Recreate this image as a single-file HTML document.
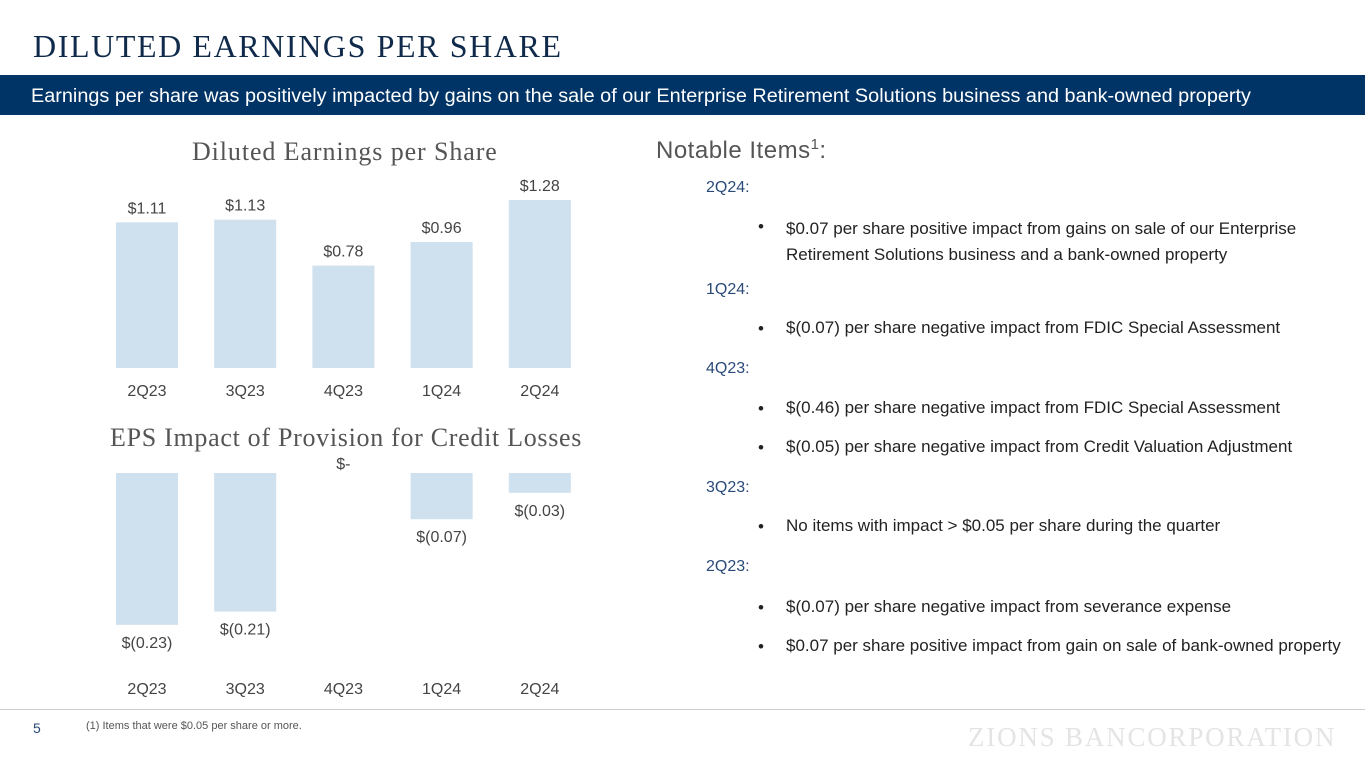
<!DOCTYPE html>
<html><head><meta charset="utf-8"><style>
body{margin:0;width:1365px;height:768px;position:relative;background:#fff;font-family:"Liberation Sans",sans-serif;overflow:hidden}
.abs{position:absolute}
.t{white-space:nowrap}
.blue{color:#2a4a78}
.ni{font-size:17px;color:#222}
</style></head><body>
<div class="abs t" style="left:33px;top:28px;font-family:'Liberation Serif',serif;font-size:32px;letter-spacing:1.6px;color:#0f2a4a">DILUTED EARNINGS PER SHARE</div>
<div class="abs" style="left:0;top:75px;width:1365px;height:40px;background:#003466"></div>
<div class="abs t" style="left:31px;top:85px;font-size:19.85px;color:#fff">Earnings per share was positively impacted by gains on the sale of our Enterprise Retirement Solutions business and bank-owned property</div>
<div class="abs t" style="left:192px;top:137px;font-family:'Liberation Serif',serif;font-size:26px;letter-spacing:0.9px;color:#555">Diluted Earnings per Share</div>
<div class="abs t" style="left:110px;top:423px;font-family:'Liberation Serif',serif;font-size:26px;letter-spacing:0.7px;color:#555">EPS Impact of Provision for Credit Losses</div>
<svg class="abs" style="left:0;top:0" width="1365" height="768" id="charts"></svg>
<div class="abs t" style="left:656px;top:136px;font-size:24px;color:#555;letter-spacing:0.5px">Notable Items<sup style="font-size:15px">1</sup>:</div>
<div>
<div class="abs t blue" style="left:706px;top:179px;font-size:16px">2Q24:</div>
<div class="abs ni" style="left:758px;top:217px">•</div>
<div class="abs ni" style="left:786px;top:216px;line-height:26px;width:560px">$0.07 per share positive impact from gains on sale of our Enterprise Retirement Solutions business and a bank-owned property</div>
<div class="abs t blue" style="left:706px;top:281px;font-size:16px">1Q24:</div>
<div class="abs ni" style="left:758px;top:319px">•</div>
<div class="abs t ni" style="left:786px;top:318px">$(0.07) per share negative impact from FDIC Special Assessment</div>
<div class="abs t blue" style="left:706px;top:360px;font-size:16px">4Q23:</div>
<div class="abs ni" style="left:758px;top:399px">•</div>
<div class="abs t ni" style="left:786px;top:398px">$(0.46) per share negative impact from FDIC Special Assessment</div>
<div class="abs ni" style="left:758px;top:438px">•</div>
<div class="abs t ni" style="left:786px;top:437px">$(0.05) per share negative impact from Credit Valuation Adjustment</div>
<div class="abs t blue" style="left:706px;top:479px;font-size:16px">3Q23:</div>
<div class="abs ni" style="left:758px;top:517px">•</div>
<div class="abs t ni" style="left:786px;top:516px">No items with impact &gt; $0.05 per share during the quarter</div>
<div class="abs t blue" style="left:706px;top:558px;font-size:16px">2Q23:</div>
<div class="abs ni" style="left:758px;top:598px">•</div>
<div class="abs t ni" style="left:786px;top:597px">$(0.07) per share negative impact from severance expense</div>
<div class="abs ni" style="left:758px;top:637px">•</div>
<div class="abs t ni" style="left:786px;top:636px">$0.07 per share positive impact from gain on sale of bank-owned property</div>
</div>
<div class="abs" style="left:0;top:709px;width:1365px;height:1px;background:#ccc"></div>
<div class="abs t" style="left:33px;top:720px;font-size:14px;color:#2a4a78">5</div>
<div class="abs t" style="left:86px;top:720px;font-size:11px;color:#555">(1) Items that were $0.05 per share or more.</div>
<div class="abs t" style="left:968px;top:722px;font-family:'Liberation Serif',serif;font-size:27px;color:#e4e4e4;letter-spacing:1.8px">ZIONS BANCORPORATION</div>
<script>
const categories=["2Q23","3Q23","4Q23","1Q24","2Q24"];
const epsValues=[1.11,1.13,0.78,0.96,1.28];
const epsLabels=["$1.11","$1.13","$0.78","$0.96","$1.28"];
const provValues=[-0.23,-0.21,0,-0.07,-0.03];
const provLabels=["$(0.23)","$(0.21)","$-","$(0.07)","$(0.03)"];
const svg=document.getElementById('charts');
const NS='http://www.w3.org/2000/svg';
const xBand=i=>116+i*98.2, bw=62;
const y1=v=>368-v*131.25;
const y2=v=>473-v*660;
function mk(tag,attrs,txt){const e=document.createElementNS(NS,tag);for(const k in attrs)e.setAttribute(k,attrs[k]);if(txt!==undefined)e.textContent=txt;svg.appendChild(e);return e;}
epsValues.forEach((v,i)=>{
 const r=mk('rect',{x:xBand(i),y:y1(v),width:bw,height:y1(0)-y1(v),fill:'#cfe0ee'});
 
 
 const t=mk('text',{x:xBand(i)+bw/2,y:y1(v)-9,'text-anchor':'middle','font-size':16,fill:'#444','font-family':'Liberation Sans'},epsLabels[i]);
 
 
 const c=mk('text',{x:xBand(i)+bw/2,y:396,'text-anchor':'middle','font-size':16,fill:'#444','font-family':'Liberation Sans'},categories[i]);
 
 
});
provValues.forEach((v,i)=>{
 const top=y2(Math.max(v,0)),bot=y2(Math.min(v,0));
 if(bot>top){const r=mk('rect',{x:xBand(i),y:top,width:bw,height:bot-top,fill:'#cfe0ee'});
 
 }
 const ly=v<0?bot+23:y2(0)-4;
 const t=mk('text',{x:xBand(i)+bw/2,y:ly,'text-anchor':'middle','font-size':16,fill:'#444','font-family':'Liberation Sans'},provLabels[i]);
 
 
 const c=mk('text',{x:xBand(i)+bw/2,y:694,'text-anchor':'middle','font-size':16,fill:'#444','font-family':'Liberation Sans'},categories[i]);
 
 
});
</script>
</body></html>
